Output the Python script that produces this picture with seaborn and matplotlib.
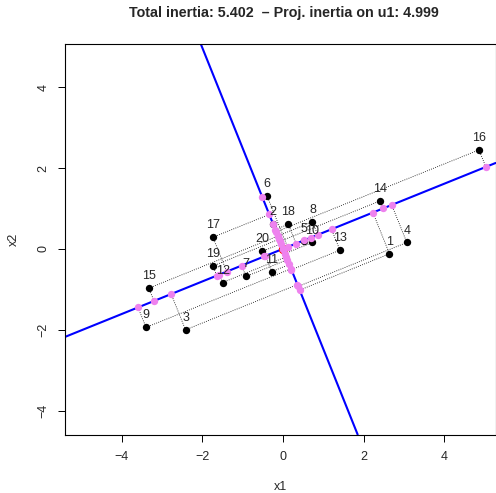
import numpy as np
import pandas as pd
import seaborn as sns
import matplotlib.pyplot as plt

# points
ids = [str(i) for i in range(1, 21)]
x1 = [2.64, -0.25, -2.42, 3.07, 0.52, -0.40, -0.92, 0.73, -3.40, 0.73,
      -0.28, -1.50, 1.41, 2.41, -3.33, 4.86, -1.74, 0.13, -1.74, -0.52]
x2 = [-0.12, 0.62, -2.00, 0.16, 0.20, 1.32, -0.68, 0.67, -1.94, 0.16,
      -0.56, -0.83, -0.03, 1.19, -0.97, 2.45, 0.29, 0.61, -0.42, -0.06]
xticks = [-4, -2, 0, 2, 4]
yticks = [-4, -2, 0, 2, 4]
title = 'Total inertia: 5.402  \u2013 Proj. inertia on u1: 4.999'

d = pd.DataFrame({'id': ids, 'x1': x1, 'x2': x2})
X = d[['x1', 'x2']].values
c = X.mean(axis=0)
Xc = X - c
vals, vecs = np.linalg.eigh(Xc.T @ Xc / len(X))
u1 = vecs[:, np.argmax(vals)]
u2 = np.array([-u1[1], u1[0]])
p1 = c + np.outer(Xc @ u1, u1)
p2 = c + np.outer(Xc @ u2, u2)

sns.set_theme(style='ticks')
plt.rcParams['font.family'] = ['Liberation Sans', 'DejaVu Sans']

fig = plt.figure(figsize=(4.96, 4.93), dpi=100)
ax = fig.add_axes([65 / 496, 58.5 / 493, 430.5 / 496, 390.5 / 493])

for i in range(len(X)):
    ax.plot([X[i, 0], p1[i, 0]], [X[i, 1], p1[i, 1]], ls=':', c='black', lw=0.6, zorder=1)
    ax.plot([X[i, 0], p2[i, 0]], [X[i, 1], p2[i, 1]], ls=':', c='black', lw=0.6, zorder=1)

ax.axline(c, c + u1, color='blue', lw=1.5, zorder=2)
ax.axline(c, c + u2, color='blue', lw=1.5, zorder=2)

sns.scatterplot(data=d, x='x1', y='x2', color='black', s=28, linewidth=0, ax=ax, zorder=3)
ax.scatter([c[0]], [c[1]], color='red', s=45, linewidth=0, zorder=4)
pp = pd.DataFrame(np.vstack([p1, p2]), columns=['x1', 'x2'])
sns.scatterplot(data=pp, x='x1', y='x2', color='violet', s=28, linewidth=0, ax=ax, zorder=5)

for i, lab in enumerate(ids):
    ax.annotate(lab, (X[i, 0], X[i, 1]), xytext=(0, 8.6), textcoords='offset points',
                ha='center', va='center', fontsize=9, zorder=6)

ax.set_xlim(-5.41, 5.27)
ax.set_ylim(-4.59, 5.07)
ax.set_xticks(xticks)
ax.set_yticks(yticks)
ax.set_yticklabels([str(t).replace('-', '\u2212') for t in yticks], rotation=90, va='center')
ax.set_xticklabels([str(t).replace('-', '\u2212') for t in xticks])
ax.tick_params(axis='both', labelsize=9, length=5.2, width=0.7, direction='out', color='black')
ax.tick_params(axis='x', pad=7)
ax.tick_params(axis='y', pad=6)
for s in ax.spines.values():
    s.set_linewidth(0.8)
    s.set_color('black')
ax.set_xlabel('x1', fontsize=9, labelpad=13)
ax.set_ylabel('x2', fontsize=9, labelpad=13)

fig.text(283.5 / 496, 1 - 13 / 493, title,
         ha='center', va='center', fontsize=10.3, fontweight='bold')

fig.savefig('out.png', dpi=100)
